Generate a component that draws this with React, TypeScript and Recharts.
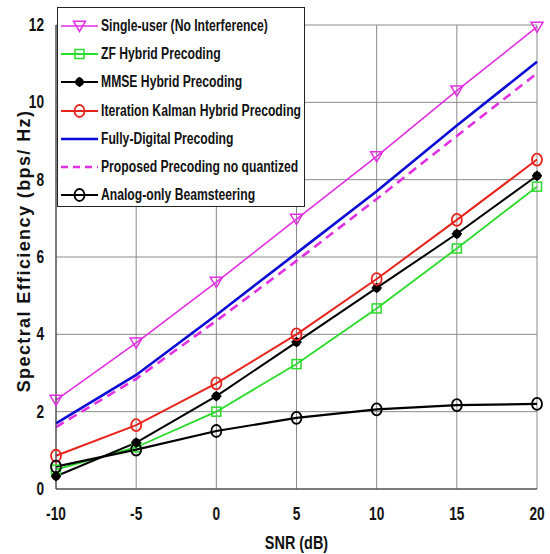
import React from "react";
import {
  LineChart,
  Line,
  XAxis,
  YAxis,
  CartesianGrid,
  Legend,
} from "recharts";

const snr = [-10, -5, 0, 5, 10, 15, 20];
const singleUser = [2.3, 3.78, 5.35, 6.98, 8.6, 10.3, 11.95];
const zfHybrid = [0.5, 1.08, 2.0, 3.23, 4.67, 6.22, 7.82];
const mmseHybrid = [0.33, 1.2, 2.4, 3.8, 5.2, 6.6, 8.1];
const kalmanHybrid = [0.86, 1.65, 2.73, 4.0, 5.43, 6.96, 8.52];
const fullyDigital = [1.7, 2.95, 4.5, 6.1, 7.7, 9.4, 11.05];
const proposedNoQuant = [1.6, 2.85, 4.35, 5.9, 7.5, 9.13, 10.75];
const analogOnly = [0.58, 1.02, 1.5, 1.84, 2.06, 2.17, 2.2];

const xTicks = [-10, -5, 0, 5, 10, 15, 20];
const yTicks = [0, 2, 4, 6, 8, 10, 12];

const data = snr.map((s, i) => ({
  snr: s,
  single: singleUser[i],
  zf: zfHybrid[i],
  mmse: mmseHybrid[i],
  kalman: kalmanHybrid[i],
  digital: fullyDigital[i],
  proposed: proposedNoQuant[i],
  analog: analogOnly[i],
}));

const sans = "'Liberation Sans', Arial, sans-serif";
const squeeze = 0.76;

type MarkerKind = "triangle" | "square" | "star" | "circle" | "none";

function Marker({ kind, cx, cy, color }: { kind: MarkerKind; cx: number; cy: number; color: string }) {
  if (kind === "triangle") {
    const r = 6;
    return (
      <polygon
        points={`${cx - r},${cy - r * 0.8} ${cx + r},${cy - r * 0.8} ${cx},${cy + r * 0.9}`}
        fill="none"
        stroke={color}
        strokeWidth={1.5}
      />
    );
  }
  if (kind === "square") {
    return <rect x={cx - 4.5} y={cy - 4.5} width={9} height={9} fill="none" stroke={color} strokeWidth={1.5} />;
  }
  if (kind === "star") {
    return (
      <g stroke={color} strokeWidth={1.8}>
        <circle cx={cx} cy={cy} r={3.5} fill={color} />
        <line x1={cx - 5} y1={cy} x2={cx + 5} y2={cy} />
        <line x1={cx} y1={cy - 5} x2={cx} y2={cy + 5} />
      </g>
    );
  }
  if (kind === "circle") {
    return <ellipse cx={cx} cy={cy} rx={5} ry={6} fill="none" stroke={color} strokeWidth={1.8} />;
  }
  return null;
}

const series = [
  { key: "single", name: "Single-user (No Interference)", color: "#E22FE2", width: 1.6, dash: undefined, marker: "triangle" as MarkerKind },
  { key: "zf", name: "ZF Hybrid Precoding", color: "#2ADB2A", width: 1.8, dash: undefined, marker: "square" as MarkerKind },
  { key: "mmse", name: "MMSE Hybrid Precoding", color: "#000000", width: 2, dash: undefined, marker: "star" as MarkerKind },
  { key: "kalman", name: "Iteration Kalman Hybrid Precoding", color: "#E8231C", width: 2, dash: undefined, marker: "circle" as MarkerKind },
  { key: "digital", name: "Fully-Digital Precoding", color: "#0B0BD6", width: 2.6, dash: undefined, marker: "none" as MarkerKind },
  { key: "proposed", name: "Proposed Precoding no quantized", color: "#E22FE2", width: 2.6, dash: "9 6", marker: "none" as MarkerKind },
  { key: "analog", name: "Analog-only Beamsteering", color: "#000000", width: 2.2, dash: undefined, marker: "circle" as MarkerKind },
];

function LegendBox() {
  return (
    <div
      style={{
        position: "relative",
        width: 246,
        height: 198,
        border: "1px solid #222",
        background: "#fff",
      }}
    >
      {series.map((s, i) => (
        <div key={s.key} style={{ position: "absolute", top: 4 + i * 28.2, left: 0, height: 28, display: "flex", alignItems: "center" }}>
          <svg width={43} height={28} style={{ flex: "none" }}>
            <line x1={3} y1={14} x2={40} y2={14} stroke={s.color} strokeWidth={s.width} strokeDasharray={s.dash ? "7 5" : undefined} />
            <Marker kind={s.marker} cx={21.5} cy={14} color={s.color} />
          </svg>
          <span
            style={{
              display: "inline-block",
              fontFamily: sans,
              fontWeight: "bold",
              fontSize: 16,
              color: "#111",
              whiteSpace: "nowrap",
              transform: `scaleX(${squeeze})`,
              transformOrigin: "left center",
            }}
          >
            {s.name}
          </span>
        </div>
      ))}
    </div>
  );
}

function XTick({ x, y, payload }: any) {
  return (
    <g transform={`translate(${x},${y + 23}) scale(${squeeze},1)`}>
      <text textAnchor="middle" fill="#111" fontSize={18} fontWeight="bold" fontFamily={sans}>
        {payload.value}
      </text>
    </g>
  );
}

function YTick({ x, y, payload }: any) {
  return (
    <g transform={`translate(${x},${y + 6}) scale(${squeeze},1)`}>
      <text textAnchor="end" fill="#111" fontSize={18} fontWeight="bold" fontFamily={sans}>
        {payload.value}
      </text>
    </g>
  );
}

function XLabel({ viewBox }: any) {
  const cx = viewBox.x + viewBox.width / 2;
  return (
    <g transform={`translate(${cx},${549}) scale(${squeeze},1)`}>
      <text textAnchor="middle" fill="#111" fontSize={19} fontWeight="bold" fontFamily={sans}>
        SNR (dB)
      </text>
    </g>
  );
}

function YLabel() {
  return (
    <text
      transform="translate(30,251) rotate(-90)"
      textAnchor="middle"
      fill="#111"
      fontSize={18}
      fontWeight="bold"
      letterSpacing={1.4}
      fontFamily={sans}
    >
      Spectral Efficiency (bps/ Hz)
    </text>
  );
}

export default function App() {
  return (
    <div style={{ position: "absolute", left: 0, top: 0, width: 550, height: 554, background: "#fff" }}>
      <LineChart width={550} height={554} data={data} margin={{ top: 25, right: 13, bottom: 25, left: 10 }}>
        <CartesianGrid stroke="#8a8a8a" strokeWidth={1} />
        <XAxis
          dataKey="snr"
          type="number"
          domain={[-10, 20]}
          ticks={xTicks}
          height={40}
          axisLine={{ stroke: "#333" }}
          tickLine={false}
          tick={<XTick />}
          label={<XLabel />}
        />
        <YAxis
          type="number"
          domain={[0, 12]}
          ticks={yTicks}
          width={46}
          axisLine={{ stroke: "#333" }}
          tickLine={false}
          tick={<YTick />}
          tickMargin={6}
          label={<YLabel />}
        />
        {series.map((s) => (
          <Line
            key={s.key}
            dataKey={s.key}
            name={s.name}
            stroke={s.color}
            strokeWidth={s.width}
            strokeDasharray={s.dash}
            isAnimationActive={false}
            dot={(p: any) => <Marker key={`${s.key}-${p.index}`} kind={s.marker} cx={p.cx} cy={p.cy} color={s.color} />}
            activeDot={false}
          />
        ))}
        <Legend
          layout="horizontal"
          verticalAlign="middle"
          align="center"
          content={() => <LegendBox />}
          wrapperStyle={{ position: "absolute", top: 7, left: 57, width: 248, height: 200 }}
        />
      </LineChart>
    </div>
  );
}
